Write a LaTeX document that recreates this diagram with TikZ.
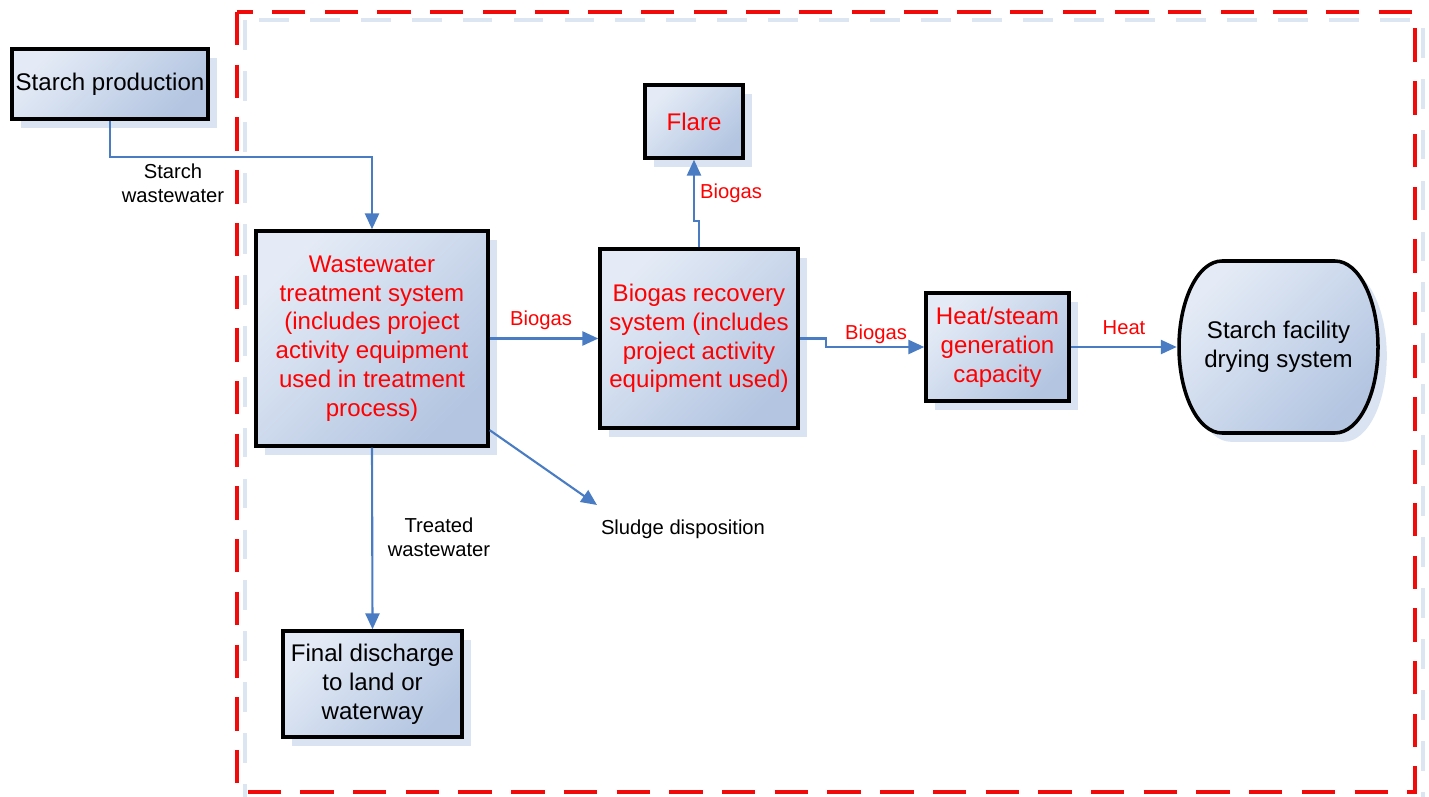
\documentclass[tikz,border=0pt]{standalone}
\usepackage{fontspec}
\setmainfont{Liberation Sans}
\usepackage{tikz}
\usetikzlibrary{arrows.meta,shadows}
\definecolor{boxlight}{HTML}{E4EBF6}
\definecolor{boxdark}{HTML}{B3C5E1}
\definecolor{shadowblue}{HTML}{DAE3F1}
\definecolor{flowblue}{HTML}{4A7CC3}
\definecolor{labelred}{HTML}{FF0000}
\definecolor{framered}{HTML}{F00A0A}
\definecolor{framepale}{HTML}{DCE5F2}
\tikzset{
  unitfill/.style={draw=black,line width=2pt,top color=boxlight,bottom color=boxdark,
               shading angle=45,
               drop shadow={shadow xshift=5pt,shadow yshift=-5pt,fill=shadowblue,opacity=1}},
  unit/.style={unitfill,inner sep=1pt,align=center,font=\fontsize{13.7}{16.4}\selectfont},
  flow/.style={draw=flowblue,line width=1.2pt,-{Triangle[length=9pt,width=8pt]}},
  lbl/.style={font=\fontsize{11.5}{13.7}\selectfont,align=center,inner sep=1pt},
  frame/.style={draw=framered,line width=2.3pt,dash pattern=on 19pt off 11pt},
  framebg/.style={draw=framepale,line width=2pt,dash pattern=on 17pt off 12pt}
}
\begin{document}
\begin{tikzpicture}[x=0.02cm,y=-0.02cm]
  \useasboundingbox (0,0) rectangle (1429,797);
  % project boundary
  \draw[framebg] (245,20) rectangle (1423,800);
  \draw[frame] (237,12) rectangle (1415,792);

  % units
  \node[unit,minimum width=3.92cm,minimum height=1.40cm] (sp) at (110,84) {Starch production};
  \node[unit,text=labelred,minimum width=4.64cm,minimum height=4.30cm] (ww) at (372,338.5)
       {Wastewater\\treatment system\\(includes project\\activity equipment\\used in treatment\\process)};
  \node[unit,text=labelred,minimum width=3.96cm,minimum height=3.58cm] (br) at (699,338.5)
       {Biogas recovery\\system (includes\\project activity\\equipment used)};
  \node[unit,text=labelred,minimum width=1.96cm,minimum height=1.46cm] (fl) at (694,121.5) {Flare};
  \node[unit,text=labelred,minimum width=2.86cm,minimum height=2.16cm] (hs) at (997.5,347)
       {Heat/steam\\generation\\capacity};
  \node[unit,minimum width=3.58cm,minimum height=2.12cm] (fd) at (372.5,684)
       {Final discharge\\to land or\\waterway};

  % drying system outline
  \path[unitfill] (1222,261) -- (1335,261)
       .. controls (1359,261) and (1378,300) .. (1378,347)
       .. controls (1378,394) and (1359,433) .. (1335,433) -- (1222,433)
       .. controls (1198,433) and (1179,394) .. (1179,347)
       .. controls (1179,300) and (1198,261) .. (1222,261) -- cycle;
  \node[align=center,font=\fontsize{13.7}{16.4}\selectfont,
        minimum width=4.06cm,minimum height=3.52cm] (sf) at (1278.5,347)
       {Starch facility\\drying system};

  % labels
  \node[lbl] (swl) at (173,183) {Starch\\wastewater};
  \node[lbl,text=labelred] (bg1) at (541,320) {Biogas};
  \node[lbl,text=labelred] (bg2) at (731,193) {Biogas};
  \node[lbl,text=labelred] (bg3) at (876,334) {Biogas};
  \node[lbl,text=labelred] (ht) at (1124,328) {Heat};
  \node[lbl] (tw) at (439,537) {Treated\\wastewater};
  \node[lbl] (sd) at (683,529) {Sludge disposition};
  \coordinate (sdend) at (597,505);

  % flows
  \draw[flow] (sp.south) -- ++(0,36) -| (ww.north);
  \draw[flow] (ww.east) -- (br.west);
  \draw[flow] (br.north) -- ++(0,-26) -| (fl.south);
  \draw[flow] (br.east) -- ++(26,0) |- (hs.west);
  \draw[flow] (hs.east) -- (sf.west);
  \draw[flow] ([yshift=10pt]ww.south east) -- (sdend);
  \draw[flow] (ww.south) -- (fd.north);
\end{tikzpicture}
\end{document}
